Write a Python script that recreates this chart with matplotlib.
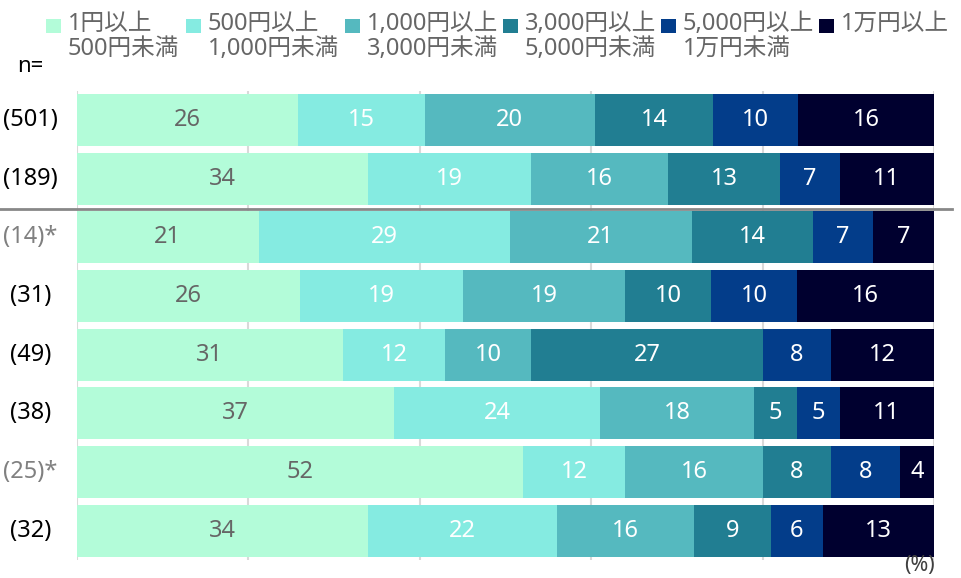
import numpy as np
import matplotlib.pyplot as plt
from matplotlib.patches import Rectangle

plt.rcParams['font.family'] = ['Noto Sans', 'Noto Sans CJK JP']

# データ
categories = ['1円以上\n500円未満', '500円以上\n1,000円未満', '1,000円以上\n3,000円未満',
              '3,000円以上\n5,000円未満', '5,000円以上\n1万円未満', '1万円以上']
row_labels = ['(501)', '(189)', '(14)*', '(31)', '(49)', '(38)', '(25)*', '(32)']
v_1_500 = [26, 34, 21, 26, 31, 37, 52, 34]
v_500_1000 = [15, 19, 29, 19, 12, 24, 12, 22]
v_1000_3000 = [20, 16, 21, 19, 10, 18, 16, 16]
v_3000_5000 = [14, 13, 14, 10, 27, 5, 8, 9]
v_5000_10000 = [10, 7, 7, 10, 8, 5, 8, 6]
v_10000 = [16, 11, 7, 16, 12, 11, 4, 13]

colors = ['#b3fcd9', '#85ebe1', '#55b9bf', '#217e92', '#033d8a', '#00002f']
txt_colors = ['#666666', 'white', 'white', 'white', 'white', 'white']
small_n = [False, False, True, False, False, False, True, False]

vals = np.array([v_1_500, v_500_1000, v_1000_3000, v_3000_5000, v_5000_10000, v_10000], dtype=float)
widths = vals / vals.sum(axis=0) * 100  # 100%に合わせる

fig = plt.figure(figsize=(9.61, 5.78), dpi=100)
ax = fig.add_axes([0.0801, 0.0311, 0.8918, 0.8122])

y = np.arange(len(row_labels))
left = np.zeros(len(row_labels))
for i in range(len(categories)):
    ax.barh(y, widths[i], left=left, height=0.885, color=colors[i], zorder=2)
    for j in range(len(row_labels)):
        ax.text(left[j] + widths[i][j] / 2, y[j], str(int(vals[i][j])), ha='center', va='center',
                color=txt_colors[i], fontsize=17, zorder=3)
    left += widths[i]

ax.set_xlim(0, 100)
ax.set_ylim(len(row_labels) - 0.5, -0.5)
ax.set_xticks([0, 20, 40, 60, 80, 100])
ax.xaxis.grid(True, color='#d9d9d9', linewidth=1.5, zorder=0)
ax.set_axisbelow(True)
ax.tick_params(left=False, bottom=False, labelbottom=False, labelleft=False)
for s in ax.spines.values():
    s.set_visible(False)

# 行ラベル
for j, lab in enumerate(row_labels):
    ax.text(-5.45, y[j], lab, ha='center', va='center', fontsize=17,
            color='#808080' if small_n[j] else 'black', clip_on=False)

# 区切り線
fig.add_artist(plt.Line2D([0, 952 / 961], [1 - 209 / 578, 1 - 209 / 578], color='#888888', linewidth=2))

# 凡例
leg_x = [46, 186, 345, 503, 661, 819]
for i, c in enumerate(categories):
    fig.add_artist(Rectangle((leg_x[i] / 961, 1 - 33 / 578), 15 / 961, 14 / 578,
                             facecolor=colors[i], edgecolor='none', transform=fig.transFigure))
    fig.text((leg_x[i] + 22) / 961, 1 - 12 / 578, c, ha='left', va='top', fontsize=17,
             color='#666666', linespacing=1.05)

fig.text(17 / 961, 1 - 66 / 578, 'n=', ha='left', va='center', fontsize=16, color='black')
fig.text(935 / 961, 1 - 576 / 578, '(%)', ha='right', va='bottom', fontsize=15.5, color='#404040')

plt.savefig('out.png')
